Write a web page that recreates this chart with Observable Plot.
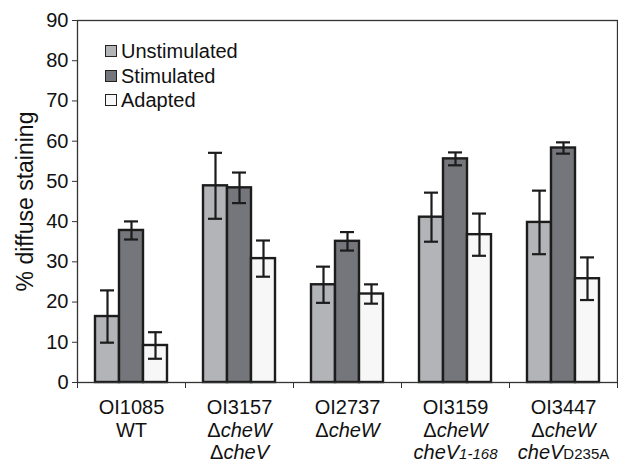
<!DOCTYPE html>
<html><head><meta charset="utf-8">
<script src="https://cdn.jsdelivr.net/npm/d3@7"></script>
<script src="https://cdn.jsdelivr.net/npm/@observablehq/plot@0.6"></script>
<style>
body{margin:0;background:#fff;font-family:"Liberation Sans",Arial,sans-serif;}
#wrap{position:relative;width:618px;height:462px;}
#legend{position:absolute;left:105px;top:39px;font-size:20px;color:#111;line-height:1;}
.row{display:flex;align-items:center;height:24.5px;}
.sw{width:10px;height:10px;border:1.6px solid #222;margin-right:4px;}
</style></head><body><div id="wrap"><div id="legend"></div></div>
<script>
// ---- data ----
const strains = ["OI1085", "OI3157", "OI2737", "OI3159", "OI3447"];
const genotypes = [
  ["WT"],
  ["Δ<i>cheW</i>", "Δ<i>cheV</i>"],
  ["Δ<i>cheW</i>"],
  ["Δ<i>cheW</i>", "<i>cheV</i><sub><i>1-168</i></sub>"],
  ["Δ<i>cheW</i>", "<i>cheV</i><sub>D235A</sub>"]
];
const conditions = ["Unstimulated", "Stimulated", "Adapted"];
const unstimulated    = [16.4, 48.9, 24.3, 41.1, 39.8];
const unstimulatedErr = [6.5, 8.2, 4.5, 6.1, 7.9];
const stimulated      = [37.8, 48.4, 35.1, 55.6, 58.3];
const stimulatedErr   = [2.25, 3.8, 2.3, 1.6, 1.4];
const adapted         = [9.2, 30.8, 22.0, 36.75, 25.8];
const adaptedErr      = [3.3, 4.5, 2.4, 5.25, 5.3];
const yTicks = [0, 10, 20, 30, 40, 50, 60, 70, 80, 90];
const yTitle = "% diffuse staining";
const colors = ["#b3b4b8", "#75767b", "#f7f7f7"];

// ---- layout helpers ----
const series = [unstimulated, stimulated, adapted];
const errs = [unstimulatedErr, stimulatedErr, adaptedErr];
const band = 108, pad = 18, barW = 24, capHalf = 7;
const rows = strains.flatMap((s, i) => conditions.map((c, j) => ({
  strain: s, condition: c, value: series[j][i], err: errs[j][i],
  x1: i + (pad + j * barW) / band,
  x2: i + (pad + (j + 1) * barW) / band,
  xc: i + (pad + j * barW + barW / 2) / band
})));
const stripTags = s => s.replace(/<[^>]+>/g, "");
const labelRows = strains.map((s, i) => ({x: i + 0.5, y: 0, lines: [s, ...genotypes[i]]}));
const ink = "#1c1c1c";

const plot = Plot.plot({
  width: 618, height: 462,
  marginLeft: 77, marginRight: 1, marginTop: 20, marginBottom: 80,
  style: {fontFamily: '"Liberation Sans", Arial, sans-serif', fontSize: "20px", color: "#111", background: "transparent"},
  x: {domain: [0, 5], axis: null},
  y: {domain: [0, 90], axis: null},
  color: {domain: conditions, range: colors},
  marks: [
    Plot.rectY(rows, {x1: "x1", x2: "x2", y1: d => 0, y2: "value", fill: "condition", stroke: ink, strokeWidth: 2.4}),
    Plot.ruleX(rows, {x: "xc", y1: d => d.value - d.err, y2: d => d.value + d.err, stroke: ink, strokeWidth: 2.2}),
    Plot.ruleY(rows, {y: d => d.value + d.err, x1: d => d.xc - capHalf / band, x2: d => d.xc + capHalf / band, stroke: ink, strokeWidth: 2.2}),
    Plot.ruleY(rows, {y: d => d.value - d.err, x1: d => d.xc - capHalf / band, x2: d => d.xc + capHalf / band, stroke: ink, strokeWidth: 2.2}),
    Plot.frame({stroke: "#333", strokeWidth: 1.3}),
    Plot.axisY({ticks: yTicks, tickSize: 5, tickPadding: 4, label: null, fontSize: 20, stroke: "#333"}),
    Plot.axisX({ticks: [0, 1, 2, 3, 4, 5], tickSize: 6, tickFormat: () => "", label: null, stroke: "#333"}),
    Plot.text(labelRows, {x: "x", y: "y", text: d => d.lines.map(stripTags).join("\n"), lineAnchor: "top", dy: 16, lineHeight: 1.125, fontSize: 20, fill: "#111", ariaDescription: "genotype"}),
    Plot.text([yTitle], {text: d => d, frameAnchor: "left", textAnchor: "middle", rotate: -90, dx: -52, fontSize: 23, fill: "#111"})
  ]
});

// rich formatting (italic gene names, small subscripts) for category labels
const toSvg = s => s.replace(/<i>/g, '<tspan font-style="italic">').replace(/<\/i>/g, "</tspan>")
  .replace(/<sub>/g, '<tspan font-size="15">').replace(/<\/sub>/g, "</tspan>");
d3.select(plot).selectAll('g[aria-description="genotype"] text').each(function(_, k) {
  const lines = labelRows[k].lines;
  const tspans = this.querySelectorAll("tspan");
  if (tspans.length) tspans.forEach((t, j) => { t.innerHTML = toSvg(lines[j]); });
  else this.innerHTML = toSvg(lines[0]);
});

document.getElementById("wrap").prepend(plot);
plot.style.position = "absolute"; plot.style.left = "0"; plot.style.top = "0";

// legend
const legend = d3.select("#legend");
conditions.forEach((c, j) => {
  const r = legend.append("div").attr("class", "row");
  r.append("div").attr("class", "sw").style("background", colors[j]);
  r.append("span").text(c);
});
document.getElementById("legend").style.zIndex = 2;
</script></body></html>
